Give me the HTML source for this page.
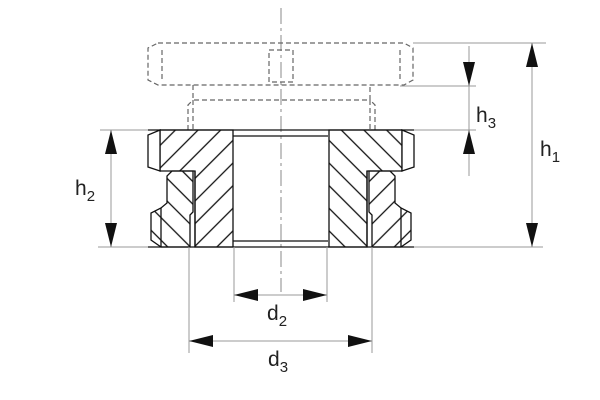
<!DOCTYPE html>
<html><head><meta charset="utf-8"><style>
html,body{margin:0;padding:0;background:#fff;}
svg{display:block}
text{font-family:"Liberation Sans",Arial,sans-serif;fill:#222}
</style></head><body>
<svg width="600" height="400" viewBox="0 0 600 400" xmlns="http://www.w3.org/2000/svg">
<defs>
<pattern id="hA" patternUnits="userSpaceOnUse" width="16" height="16" patternTransform="rotate(45)">
<line x1="0" y1="8" x2="16" y2="8" stroke="#111" stroke-width="1.3"/></pattern>
<pattern id="hB" patternUnits="userSpaceOnUse" width="16" height="16" patternTransform="rotate(-45)">
<line x1="0" y1="8" x2="16" y2="8" stroke="#111" stroke-width="1.3"/></pattern>
<g id="half">
<path d="M160,130 L233,130 L233,247 L195,247 L195,171 L160,171 Z" fill="url(#hB)" stroke="#111" stroke-width="1.3"/>
<path d="M160,130 L148,135 L148,167 L160,171 Z" fill="#fff" stroke="#111" stroke-width="1.3"/>
<path d="M172,171 L193,171 L193,212 L190,215 L190,247 L161,247 L151,240 L151,213 L161,208 L167,203 L167,176 Z" fill="url(#hA)" stroke="#111" stroke-width="1.3"/>
<line x1="161" y1="208" x2="161" y2="247" stroke="#111" stroke-width="1.3"/>
<line x1="195" y1="171" x2="195" y2="247" stroke="#111" stroke-width="1.3"/>
</g>
</defs>
<line x1="281" y1="8" x2="281" y2="292" stroke="#888" stroke-width="1" stroke-dasharray="16,4,3,4"/>
<g fill="none" stroke="#666" stroke-width="1.2" stroke-dasharray="5,3">
<path d="M158,43 L404,43 L413,48 L413,80 L404,85 L158,85 L148,80 L148,48 Z"/>
<line x1="162" y1="50" x2="162" y2="82"/>
<line x1="400" y1="50" x2="400" y2="82"/>
<rect x="269" y="50" width="24" height="32"/>
<path d="M193,85 L193,100 L370,100 L370,85"/>
<path d="M188,130 L188,105 L193,100"/>
<path d="M375,130 L375,105 L370,100"/>
<line x1="193" y1="100" x2="193" y2="130"/>
<line x1="370" y1="100" x2="370" y2="130"/>
</g>
<use href="#half"/>
<use href="#half" transform="translate(562,0) scale(-1,1)"/>
<g stroke="#111" stroke-width="1.3">
<line x1="233" y1="136" x2="328" y2="136"/>
<line x1="233" y1="241" x2="328" y2="241"/>
<line x1="148" y1="130" x2="414" y2="130"/>
<line x1="148" y1="247" x2="414" y2="247"/>
</g>
<g stroke="#999" stroke-width="1">
<line x1="413" y1="43" x2="546" y2="43"/>
<line x1="400" y1="86" x2="476" y2="86"/>
<line x1="414" y1="130" x2="476" y2="130"/>
<line x1="414" y1="247" x2="543" y2="247"/>
<line x1="100" y1="130" x2="148" y2="130"/>
<line x1="98" y1="247" x2="148" y2="247"/>
<line x1="234" y1="247" x2="234" y2="302"/>
<line x1="327" y1="247" x2="327" y2="302"/>
<line x1="189" y1="247" x2="189" y2="353"/>
<line x1="372" y1="247" x2="372" y2="353"/>
<line x1="532" y1="43" x2="532" y2="247"/>
<line x1="469" y1="46" x2="469" y2="176"/>
<line x1="111" y1="130" x2="111" y2="247"/>
<line x1="234" y1="295" x2="327" y2="295"/>
<line x1="189" y1="341" x2="372" y2="341"/>
</g>
<g fill="#111">
<path d="M532,43 L526,67 L538,67 Z"/>
<path d="M532,247 L526,223 L538,223 Z"/>
<path d="M469,86 L463,62 L475,62 Z"/>
<path d="M469,130 L463,154 L475,154 Z"/>
<path d="M111,130 L105,154 L117,154 Z"/>
<path d="M111,247 L105,223 L117,223 Z"/>
<path d="M234,295 L258,289 L258,301 Z"/>
<path d="M327,295 L303,289 L303,301 Z"/>
<path d="M189,341 L213,335 L213,347 Z"/>
<path d="M372,341 L348,335 L348,347 Z"/>
</g>
<g font-size="21">
<text x="476" y="122">h<tspan font-size="15" dy="6">3</tspan></text>
<text x="540" y="156">h<tspan font-size="15" dy="6">1</tspan></text>
<text x="75" y="195">h<tspan font-size="15" dy="6">2</tspan></text>
<text x="267" y="320">d<tspan font-size="15" dy="6">2</tspan></text>
<text x="268" y="366">d<tspan font-size="15" dy="6">3</tspan></text>
</g>
</svg>
</body></html>
